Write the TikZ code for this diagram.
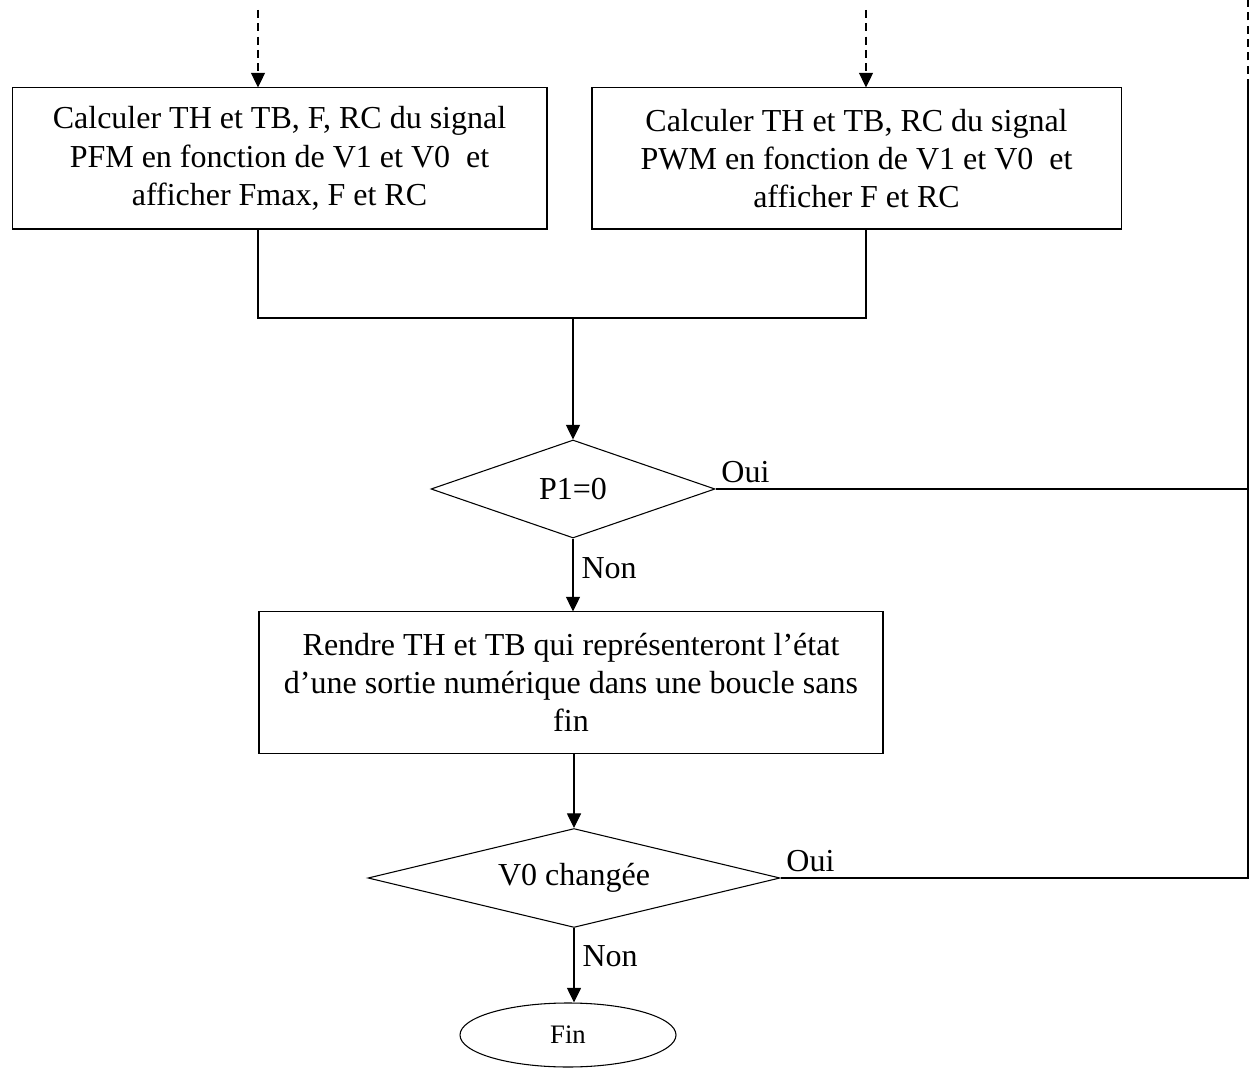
\documentclass[tikz,border=0pt]{standalone}
\usepackage{fontspec}
\setmainfont{Liberation Serif}
\usetikzlibrary{shapes.geometric,arrows.meta,calc}

\tikzset{
	box/.style={draw, thin, rectangle, align=center, inner sep=0pt, minimum height=52.9pt, font=\fontsize{12}{14.3}\selectfont},
	test/.style={draw, thin, diamond, inner sep=0pt, font=\fontsize{12}{14.3}\selectfont},
	fin/.style={draw, thin, ellipse, inner sep=0pt, minimum width=81pt, minimum height=24pt, font=\fontsize{10}{12}\selectfont},
	lbl/.style={font=\fontsize{12}{14.3}\selectfont},
	fleche/.style={-{Triangle[length=5.5pt, width=5.3pt]}, thin},
	pointille/.style={dash pattern=on 3pt off 2pt, thin}
}

\begin{document}
\begin{tikzpicture}[x=0.375pt, y=-0.375pt]
	\useasboundingbox (0,0) rectangle (1259,1068);

	\node [box, minimum width=200.6pt] (pfm) at (279.5,158.5) {Calculer TH et TB, F, RC du signal\\PFM en fonction de V1 et V0~ et\\afficher Fmax, F et RC};
	\node [box, minimum width=198.4pt] (pwm) at (856.5,158.5) {Calculer TH et TB, RC du signal\\PWM en fonction de V1 et V0~ et\\afficher F et RC};

	\node [test, shape aspect=2.9, minimum width=106.5pt, minimum height=36.75pt] (p1) at (573,489) {P1=0};
	\node [box, minimum width=234pt] (sortie) at (571,682.5) {Rendre TH et TB qui représenteront l’état\\d’une sortie numérique dans une boucle sans\\fin};
	\node [test, shape aspect=4.16, minimum width=154.5pt, minimum height=37.1pt] (v0) at (574,878) {V0 changée};
	\node [fin] (end) at (568,1035) {Fin};

	\coordinate (inL) at (258,10);
	\coordinate (inR) at (866,10);
	\coordinate (jL) at (258,318);
	\coordinate (jR) at (866,318);
	\coordinate (jM) at (573,318);
	\coordinate (rtop) at (1248,0);
	\coordinate (rmid) at (1248,87);
	\coordinate (rbot) at (1248,878);

	\draw [pointille, fleche] (inL) -- (inL |- pfm.north);
	\draw [pointille, fleche] (inR) -- (inR |- pwm.north);

	\draw [thin] (jL |- pfm.south) -- (jL) -- (jR) -- (jR |- pwm.south);
	\draw [fleche] (jM) -- (p1.north);
	\draw [fleche] (p1.south) -- (p1.south |- sortie.north);
	\draw [fleche] (v0.north |- sortie.south) -- (v0.north);
	\draw [fleche] (v0.south) -- (v0.south |- end.north);

	\draw [thin] (p1.east) -- (p1.east -| rbot);
	\draw [thin] (v0.east) -- (rbot) -- (rmid);
	\draw [pointille] (rmid) -- (rtop);

	\node [lbl, above right, inner sep=2pt] (oui1) at (p1.east) {Oui};
	\node [lbl, above right, inner sep=2pt] (oui2) at (v0.east) {Oui};
	\node [lbl, anchor=west, inner sep=3pt] (non1) at ($(p1.south)!0.4!(p1.south |- sortie.north)$) {Non};
	\node [lbl, anchor=west, inner sep=3pt] (non2) at ($(v0.south)!0.38!(v0.south |- end.north)$) {Non};
\end{tikzpicture}
\end{document}
